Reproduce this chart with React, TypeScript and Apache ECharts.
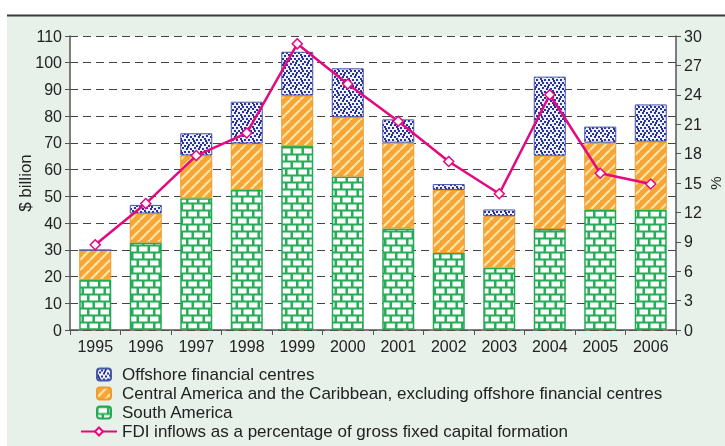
import React, { useEffect, useRef } from "react";
import * as echarts from "echarts";

const years = ["1995", "1996", "1997", "1998", "1999", "2000", "2001", "2002", "2003", "2004", "2005", "2006"];
const southAmerica = [18.7, 32.7, 49.3, 52.4, 68.8, 57.4, 38.0, 28.8, 23.3, 37.8, 44.9, 45.0];
const centralAmerica = [11.2, 10.9, 16.0, 17.4, 18.9, 22.2, 32.1, 23.6, 19.3, 27.4, 25.2, 25.5];
const offshore = [0.0, 3.2, 8.3, 15.6, 16.4, 18.3, 8.7, 2.2, 2.5, 29.6, 6.0, 13.9];
const fdiShare = [8.7, 12.9, 17.8, 20.1, 29.2, 25.1, 21.3, 17.2, 13.9, 24.0, 16.0, 14.9];
const leftTicks = { min: 0, max: 110, interval: 10 };
const rightTicks = { min: 0, max: 30, interval: 3 };

const FONT = "'Liberation Sans', Arial, sans-serif";

function makePattern(w: number, h: number, draw: (ctx: CanvasRenderingContext2D) => void) {
  const c = document.createElement("canvas");
  c.width = w;
  c.height = h;
  const ctx = c.getContext("2d") as CanvasRenderingContext2D;
  draw(ctx);
  return { image: c.toDataURL(), repeat: "repeat", imageWidth: w, imageHeight: h } as any;
}

export default function App() {
  const ref = useRef<HTMLDivElement>(null);
  useEffect(() => {
    if (!ref.current) return;
    const chart = echarts.init(ref.current, undefined, { renderer: "svg" });

    const brick = makePattern(22, 14, (ctx) => {
      ctx.fillStyle = "#25ad58";
      ctx.fillRect(0, 0, 22, 14);
      ctx.fillStyle = "#fbfdfb";
      ctx.fillRect(1.5, 1.5, 8.5, 5);
      ctx.fillRect(12.5, 1.5, 8.5, 5);
      ctx.fillRect(7, 8.5, 8.5, 5);
      ctx.fillRect(18, 8.5, 4, 5);
      ctx.fillRect(0, 8.5, 4.5, 5);
    });
    const stripe = makePattern(10, 10, (ctx) => {
      ctx.fillStyle = "#f6a536";
      ctx.fillRect(0, 0, 10, 10);
      ctx.strokeStyle = "#fde6a8";
      ctx.lineWidth = 2.2;
      for (let k = -1; k <= 1; k++) {
        ctx.beginPath();
        ctx.moveTo(k * 10, 10);
        ctx.lineTo(k * 10 + 10, 0);
        ctx.stroke();
      }
    });
    const dots = makePattern(12, 12, (ctx) => {
      ctx.fillStyle = "#eef0fa";
      ctx.fillRect(0, 0, 12, 12);
      ctx.fillStyle = "#27329a";
      const pts = [[0, 0], [4, 1], [8, 0], [10, 4], [2, 3], [6, 4], [0, 6], [4, 7], [8, 7], [10, 10], [2, 10], [6, 10], [7, 2], [1, 8]];
      pts.forEach(([x, y]) => ctx.fillRect(x, y, 2, 2));
    });

    const axisColor = "#555";
    const labelColor = "#222";

    chart.setOption({
      animation: false,
      textStyle: { fontFamily: FONT },
      graphic: [
        { type: "rect", shape: { x: 7, y: 16, width: 718, height: 430 }, style: { fill: "#e7f1e9" }, z: -10 },
        { type: "line", shape: { x1: 7, y1: 15.5, x2: 725, y2: 15.5 }, style: { stroke: "#3a3a3a", lineWidth: 2 }, z: -9 },
      ],
      grid: {
        left: 70, right: 49, top: 36, bottom: 116,
        show: true, backgroundColor: "#ffffff", borderWidth: 0,
        containLabel: false, outerBoundsMode: "none",
      },
      legend: [
        {
          data: ["Offshore financial centres", "Central America and the Caribbean, excluding offshore financial centres", "South America"],
          orient: "vertical", left: 96, top: 366, padding: 0, itemWidth: 14, itemHeight: 12, itemGap: 2,
          textStyle: { fontSize: 17, color: labelColor, fontFamily: FONT, lineHeight: 17, padding: [0, 0, 0, 6] },
        },
        {
          data: ["FDI inflows as a percentage of gross fixed capital formation"],
          left: 80, top: 423, padding: 0, itemWidth: 36, itemHeight: 10,
          textStyle: { fontSize: 17, color: labelColor, fontFamily: FONT, lineHeight: 17 },
        },
      ],
      xAxis: {
        type: "category",
        data: years,
        boundaryGap: true,
        axisLine: { lineStyle: { color: axisColor, width: 1.5 } },
        axisTick: { show: true, alignWithLabel: false, length: 5, lineStyle: { color: axisColor } },
        axisLabel: { fontSize: 16, color: labelColor, margin: 8 },
      },
      yAxis: [
        {
          type: "value", ...leftTicks,
          name: "$ billion", nameLocation: "middle", nameRotate: 90, nameGap: 36, nameMoveOverlap: false,
          nameTextStyle: { fontSize: 17, color: labelColor },
          axisLine: { show: true, lineStyle: { color: axisColor, width: 1.5 } },
          axisTick: { show: true, length: 5, lineStyle: { color: axisColor } },
          axisLabel: { fontSize: 16, color: labelColor, margin: 8 },
          splitLine: { show: true, lineStyle: { color: "#444", type: [8, 5], width: 1.2 } },
        },
        {
          type: "value", ...rightTicks,
          name: "%", nameLocation: "middle", nameRotate: 90, nameGap: 32, nameMoveOverlap: false,
          nameTextStyle: { fontSize: 15, color: labelColor },
          axisLine: { show: true, lineStyle: { color: axisColor, width: 1.5 } },
          axisTick: { show: true, length: 5, lineStyle: { color: axisColor } },
          axisLabel: { fontSize: 16, color: labelColor, margin: 8 },
          splitLine: { show: false },
        },
      ],
      series: [
        {
          name: "South America", type: "bar", stack: "fdi", data: southAmerica, barWidth: 32,
          itemStyle: { color: brick, borderColor: "#22a955", borderWidth: 1.5 },
        },
        {
          name: "Central America and the Caribbean, excluding offshore financial centres", type: "bar", stack: "fdi",
          data: centralAmerica, barWidth: 32,
          itemStyle: { color: stripe, borderColor: "#ee9a2c", borderWidth: 1 },
        },
        {
          name: "Offshore financial centres", type: "bar", stack: "fdi", data: offshore, barWidth: 32,
          itemStyle: { color: dots, borderColor: "#4656a8", borderWidth: 1 },
        },
        {
          name: "FDI inflows as a percentage of gross fixed capital formation", type: "line", yAxisIndex: 1,
          data: fdiShare, symbol: "diamond", symbolSize: 10, z: 5,
          lineStyle: { color: "#e5097f", width: 2.5 },
          itemStyle: { color: "#fff4f8", borderColor: "#e5097f", borderWidth: 1.5 },
        },
      ],
    });
    return () => chart.dispose();
  }, []);
  return <div ref={ref} style={{ position: "fixed", left: 0, top: 0, width: 725, height: 446 }} />;
}
